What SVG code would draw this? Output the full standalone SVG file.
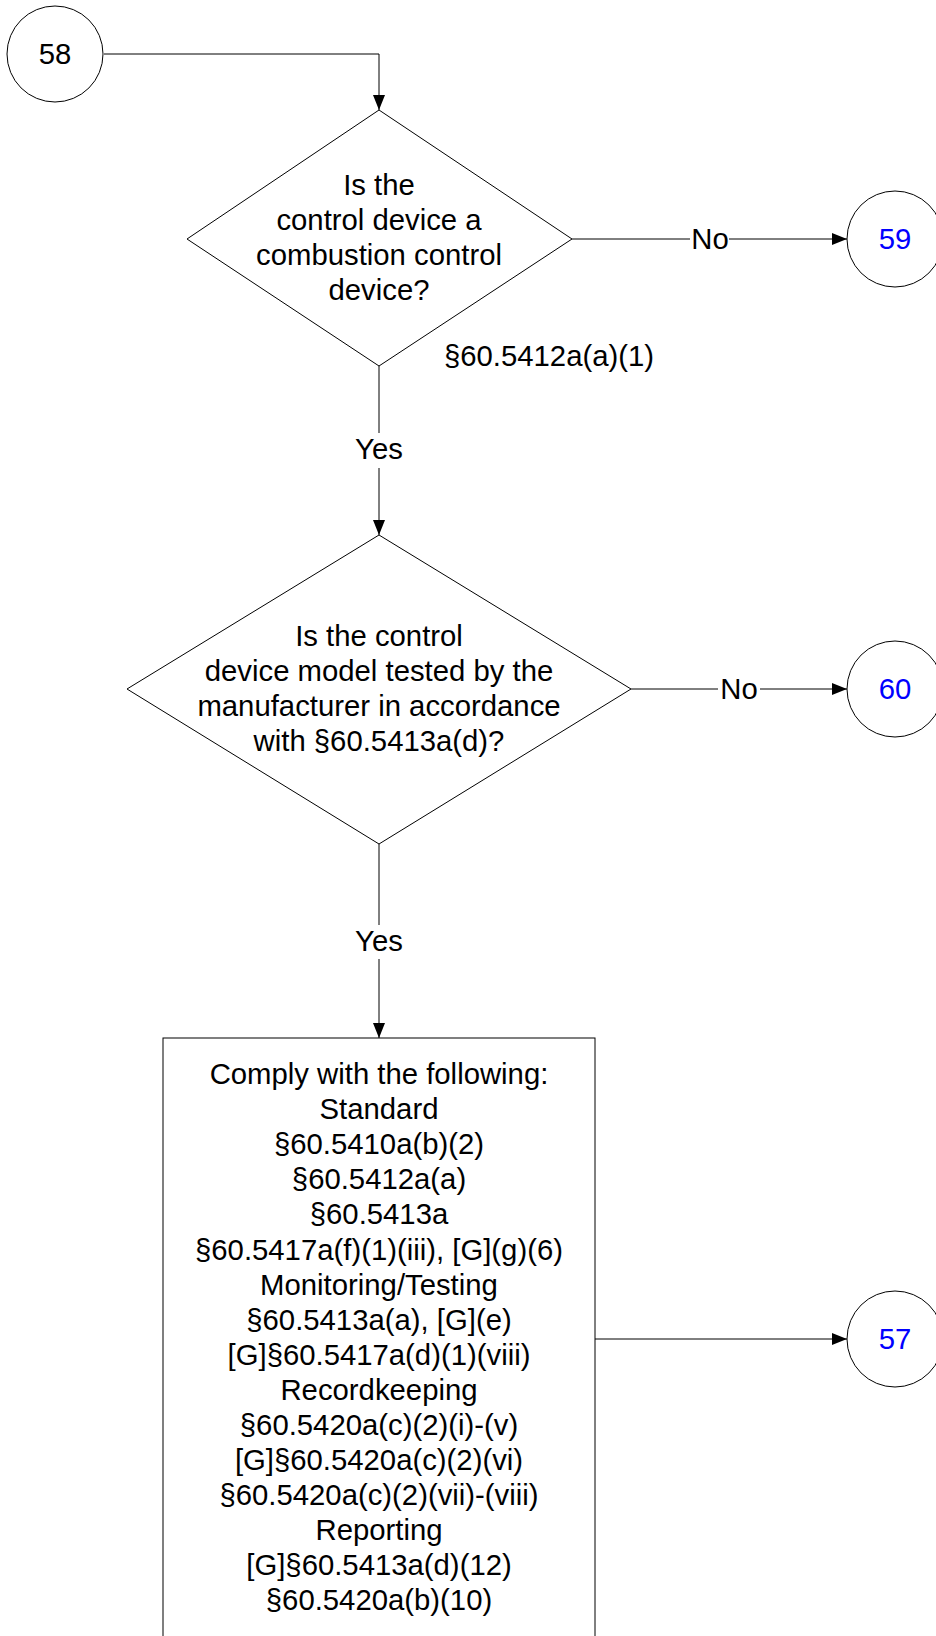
<svg xmlns="http://www.w3.org/2000/svg" width="936" height="1636" viewBox="0 0 936 1636">
<defs>
<style>
.shape{fill:#fff;stroke:#000;stroke-width:1}
.t{font-family:"Liberation Sans",Arial,sans-serif;font-size:29.3px;fill:#000;text-anchor:middle}
.blue{fill:#0000ff}
.edge{fill:none;stroke:#000;stroke-width:1}
.lbl{font-family:"Liberation Sans",Arial,sans-serif;font-size:29.3px;fill:#000;text-anchor:middle}
</style>
<marker id="arr" viewBox="0 0 15 12" refX="15" refY="6" markerWidth="15" markerHeight="12" markerUnits="userSpaceOnUse" orient="auto">
<path d="M0,0 L15,6 L0,12 Z" fill="#000"/>
</marker>
</defs>
<rect width="936" height="1636" fill="#fff"/>
<g id="connectors">
<path class="edge" d="M104,54 H379 V110" marker-end="url(#arr)"/>
<path class="edge" d="M572,239 H847" marker-end="url(#arr)"/>
<path class="edge" d="M379,366 V535" marker-end="url(#arr)"/>
<path class="edge" d="M631,689 H847" marker-end="url(#arr)"/>
<path class="edge" d="M379,844 V1038" marker-end="url(#arr)"/>
<path class="edge" d="M595,1339 H847" marker-end="url(#arr)"/>
<rect x="690" y="224" width="39" height="30" fill="#fff"/>
<text class="lbl" x="710" y="249">No</text>
<rect x="718" y="674" width="42" height="30" fill="#fff"/>
<text class="lbl" x="739" y="699">No</text>
<rect x="352" y="433" width="54" height="35" fill="#fff"/>
<text class="lbl" x="379" y="459">Yes</text>
<rect x="352" y="925" width="54" height="34" fill="#fff"/>
<text class="lbl" x="379" y="951">Yes</text>
</g>
<g id="n58">
<circle class="shape" cx="55" cy="54" r="48"/>
<text class="t" x="55" y="64">58</text>
</g>
<g id="d1">
<polygon class="shape" points="379,110 572,239 379,366 187,239"/>
<text class="t" x="379" y="195">Is the</text>
<text class="t" x="379" y="230">control device a</text>
<text class="t" x="379" y="265">combustion control</text>
<text class="t" x="379" y="300">device?</text>
</g>
<g id="ref1">
<text class="t" x="549" y="366">§60.5412a(a)(1)</text>
</g>
<g id="n59">
<circle class="shape" cx="895" cy="239" r="48"/>
<text class="t blue" x="895" y="249">59</text>
</g>
<g id="d2">
<polygon class="shape" points="379,535 631,689 379,844 127,689"/>
<text class="t" x="379" y="646">Is the control</text>
<text class="t" x="379" y="681">device model tested by the</text>
<text class="t" x="379" y="716">manufacturer in accordance</text>
<text class="t" x="379" y="751">with §60.5413a(d)?</text>
</g>
<g id="n60">
<circle class="shape" cx="895" cy="689" r="48"/>
<text class="t blue" x="895" y="699">60</text>
</g>
<g id="box">
<rect class="shape" x="163" y="1038" width="432" height="620"/>
<text class="t" x="379" y="1084">Comply with the following:</text>
<text class="t" x="379" y="1119">Standard</text>
<text class="t" x="379" y="1154">§60.5410a(b)(2)</text>
<text class="t" x="379" y="1189">§60.5412a(a)</text>
<text class="t" x="379" y="1224">§60.5413a</text>
<text class="t" x="379" y="1260">§60.5417a(f)(1)(iii), [G](g)(6)</text>
<text class="t" x="379" y="1295">Monitoring/Testing</text>
<text class="t" x="379" y="1330">§60.5413a(a), [G](e)</text>
<text class="t" x="379" y="1365">[G]§60.5417a(d)(1)(viii)</text>
<text class="t" x="379" y="1400">Recordkeeping</text>
<text class="t" x="379" y="1435">§60.5420a(c)(2)(i)-(v)</text>
<text class="t" x="379" y="1470">[G]§60.5420a(c)(2)(vi)</text>
<text class="t" x="379" y="1505">§60.5420a(c)(2)(vii)-(viii)</text>
<text class="t" x="379" y="1540">Reporting</text>
<text class="t" x="379" y="1575">[G]§60.5413a(d)(12)</text>
<text class="t" x="379" y="1610">§60.5420a(b)(10)</text>
</g>
<g id="n57">
<circle class="shape" cx="895" cy="1339" r="48"/>
<text class="t blue" x="895" y="1349">57</text>
</g>
</svg>
